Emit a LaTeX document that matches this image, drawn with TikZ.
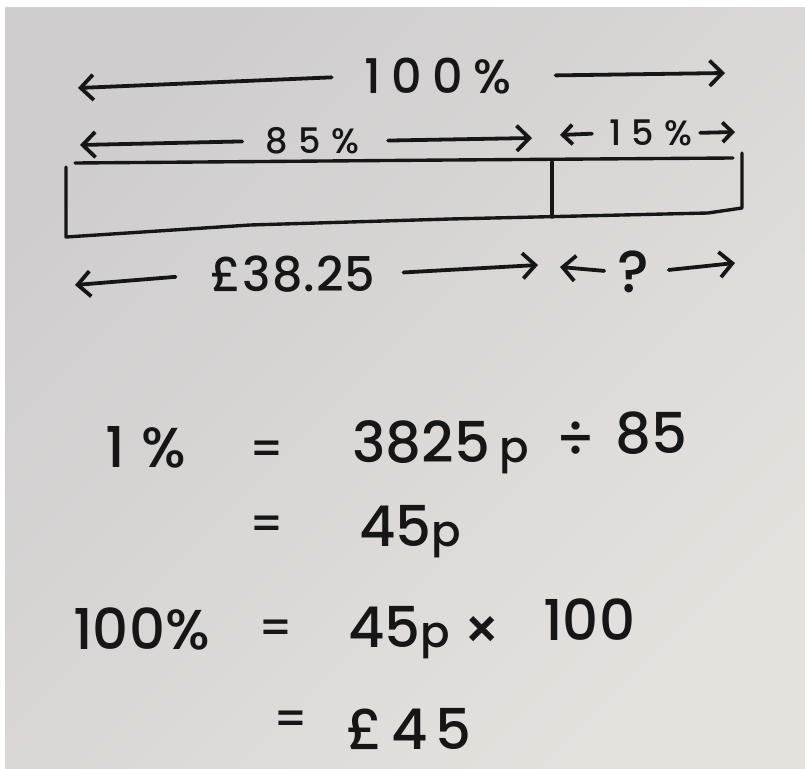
\documentclass[tikz,border=0pt]{standalone}
\usepackage{fontspec}
\setmainfont{Poppins Medium}
\usetikzlibrary{arrows.meta}
\definecolor{ink}{HTML}{161616}
\definecolor{papertop}{HTML}{CFCDCE}
\definecolor{paperbot}{HTML}{E4E1DD}
\newcommand{\spaced}[1]{\addfontfeature{LetterSpace=#1}}
\newcommand{\pence}{{\fontsize{31}{34}\selectfont p}}
\begin{document}
\begin{tikzpicture}[x=0.025cm,y=-0.025cm,
  inkline/.style={draw=ink, line width=2.7pt, line cap=round, line join=round},
  arr/.style={inkline, -{Straight Barb[length=9pt,width=18pt]}},
  sarr/.style={inkline, -{Straight Barb[length=7pt,width=14pt]}},
  lbl/.style={text=ink, inner sep=0pt},
  big/.style={lbl, font=\fontsize{34}{38}\selectfont},
  small/.style={lbl, font=\fontsize{25}{28}\selectfont\spaced{30}},
  eq/.style={lbl, anchor=base west, font=\fontsize{40}{44}\selectfont},
  eqs/.style={lbl, font=\fontsize{40}{44}\selectfont},
  eqsign/.style={lbl, font=\fontsize{32}{36}\selectfont}]
\useasboundingbox (0,0) rectangle (805,769);
\fill[white] (0,0) rectangle (805,769);
\shade[top color=papertop, bottom color=paperbot, shading angle=45] (5,7) rectangle (805,769);

% top row
\node[big, font=\fontsize{34}{38}\selectfont\spaced{22}, minimum width=3.55cm] (t100) at (438,76) {100\%};
\coordinate (t100L) at (78,88);
\coordinate (t100R) at (725,73);
\draw[arr, shorten <=23pt] (t100.west) -- (t100L);
\draw[arr, shorten <=31pt] (t100.east) -- (t100R);

% 85% / 15% row
\node[small, minimum width=2.525cm] (t85) at (312,141) {85\%};
\coordinate (t85L) at (80,145);
\coordinate (t85R) at (532,138);
\draw[arr, shorten <=13.5pt] (t85.west) -- (t85L);
\draw[arr, shorten <=18pt] (t85.east) -- (t85R);
\node[small, minimum width=2.075cm] (t15) at (651,133) {15\%};
\coordinate (t15L) at (560,135);
\coordinate (t15R) at (735,132);
\draw[sarr, shorten <=12pt] (t15.west) -- (t15L);
\draw[sarr, shorten <=5pt] (t15.east) -- (t15R);

% bar
\draw[inkline, line width=2.4pt] (75,163) -- (450,160) -- (733,158);
\draw[inkline, line width=2.4pt] (66,167) -- (66,237) -- (250,225) -- (450,219) -- (708,213) -- (742,208) -- (742,153);
\draw[inkline, line width=2.4pt] (552,162) -- (552,217);

% money row
\node[big, font=\fontsize{34}{38}\selectfont\spaced{2}, minimum width=3.825cm] (t38) at (293,274) {£38.25};
\coordinate (t38L) at (75,285);
\coordinate (t38R) at (538,265);
\draw[arr, shorten <=25pt] (t38.west) -- (t38L);
\draw[arr, shorten <=20pt] (t38.east) -- (t38R);
\node[lbl, font=\fontsize{42}{46}\selectfont, minimum width=0.5cm] (tq) at (633,272) {?};
\coordinate (tqL) at (560,267);
\coordinate (tqR) at (735,263);
\draw[arr, shorten <=9pt] (tq.west) -- (tqL);
\draw[arr, shorten <=14pt] (tq.east) -- (tqR);

% working
\node[eq, font=\fontsize{40}{44}\selectfont\spaced{30}] (e1a) at (105,467) {1\%};
\node[eqsign] (e1b) at (267,453) {=};
\node[eq] (e1c) at (352,462) {3825\,\pence};
\node[eqs] (e1d) at (576,440) {÷};
\node[eq] (e1e) at (615,453) {85};

\node[eqsign] (e2a) at (267,528) {=};
\node[eq] (e2b) at (359,546) {45\pence};

\node[eq] (e3a) at (73,649) {100\%};
\node[eqsign] (e3b) at (276,632) {=};
\node[eq] (e3c) at (348,647) {45\pence};
\node[eqs] (e3d) at (482,633) {×};
\node[eq] (e3e) at (543,640) {100};

\node[eqsign] (e4a) at (291,723) {=};
\node[eq, font=\fontsize{40}{44}\selectfont\spaced{15}] (e4b) at (346,749) {£45};
\end{tikzpicture}
\end{document}
